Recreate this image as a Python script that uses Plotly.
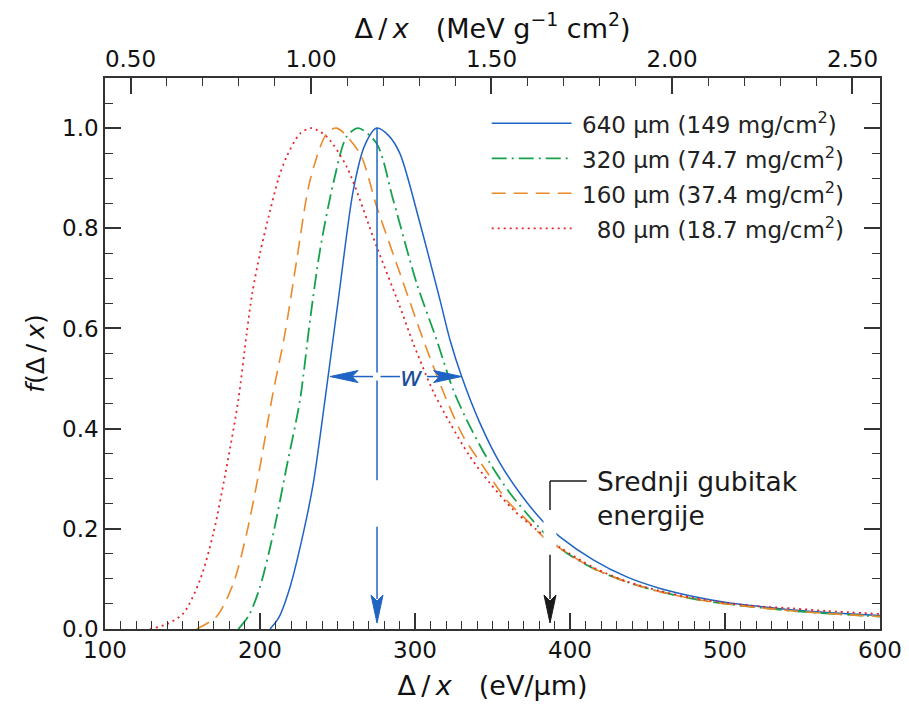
import plotly.graph_objects as go

# ---------------- data ----------------
blue_x = [206.5, 212, 219.4, 227.9, 234.4, 241.9, 250.5, 260.2, 267.5, 275.3, 283, 290.3, 303.2, 316.1,
          322.6, 330.1, 341.9, 354.8, 367.7, 382.8, 393.5, 415, 436.6, 458.1, 479.6, 501.1, 522.6,
          544.1, 565.6, 600]
blue_y = [0.0, 0.022, 0.084, 0.191, 0.291, 0.457, 0.657, 0.876, 0.965, 1.0, 0.985, 0.949, 0.81, 0.657,
          0.577, 0.504, 0.411, 0.331, 0.271, 0.214, 0.184, 0.138, 0.104, 0.081, 0.065, 0.053, 0.045,
          0.038, 0.033, 0.027]

green_x = [186, 193, 200, 208.6, 217.2, 225.8, 232.3, 238.7, 247.3, 255.9, 263.4, 275.3, 286, 301.1,
           314, 324.7, 335.5, 348.4, 361.3, 378.5, 393.5, 415, 436.6, 458, 479.6, 501, 522.6, 544,
           565.6, 600]
green_y = [0.0, 0.028, 0.084, 0.191, 0.324, 0.457, 0.617, 0.756, 0.89, 0.983, 1.0, 0.969, 0.856, 0.69,
           0.577, 0.477, 0.404, 0.331, 0.271, 0.208, 0.161, 0.121, 0.094, 0.0745, 0.060, 0.050, 0.0425,
           0.036, 0.031, 0.025]

orange_x = [159.2, 172, 182.8, 191.4, 200, 207.5, 216.1, 223.7, 232.3, 243, 249.5, 264.5, 275.3, 290.3,
            305.4, 320.4, 331.2, 344.1, 359.2, 374.2, 382.8, 393.5, 415, 436.6, 458, 479.6, 501, 522.6,
            544, 565.6, 600]
orange_y = [0.0, 0.025, 0.091, 0.191, 0.324, 0.457, 0.59, 0.737, 0.896, 0.989, 1.0, 0.949, 0.843, 0.71,
            0.577, 0.457, 0.384, 0.324, 0.257, 0.211, 0.184, 0.161, 0.121, 0.094, 0.0745, 0.060, 0.050,
            0.0425, 0.036, 0.031, 0.025]

red_x = [129, 140, 150.5, 161.3, 169.9, 178.5, 186, 191.4, 195, 200, 206.5, 212, 217.2, 225.8, 233.3, 243,
         255.9, 275.3, 290.3, 298.9, 311.8, 322.6, 335.5, 348.4, 363.4, 378.5, 393.5, 415, 436.6, 458,
         479.6, 501, 522.6, 544, 565.6, 600]
red_y = [0.0, 0.01, 0.031, 0.098, 0.191, 0.324, 0.457, 0.59, 0.67, 0.75, 0.835, 0.9, 0.943, 0.989, 1.0,
         0.983, 0.923, 0.763, 0.643, 0.570, 0.474, 0.411, 0.344, 0.291, 0.238, 0.198, 0.163, 0.123, 0.095,
         0.076, 0.062, 0.052, 0.045, 0.041, 0.036, 0.030]

series_labels = ["640 µm (149 mg/cm<sup>2</sup>)",
                 "320 µm (74.7 mg/cm<sup>2</sup>)",
                 "160 µm (37.4 mg/cm<sup>2</sup>)",
                 "\u200780 µm (18.7 mg/cm<sup>2</sup>)"]

most_probable = 275.5     # eV/µm, peak of the 640 µm curve
w_left, w_right, w_level = 245.2, 330.1, 0.504   # FWHM markers
mean_loss = 387.1         # eV/µm
mev_per = 232.9           # eV/µm per MeV g^-1 cm^2 (silicon)

# ---------------- styles ----------------
FONT = "DejaVu Sans"
C_BLUE = "#1f64c4"
C_GREEN = "#16a24c"
C_ORANGE = "#ea8a2a"
C_RED = "#e8242c"
C_AX = "#333333"

series = [
    (blue_x, blue_y, C_BLUE, "solid", 1.5),
    (green_x, green_y, C_GREEN, "15px,5px,2px,5px", 1.8),
    (orange_x, orange_y, C_ORANGE, "14px,8px", 1.6),
    (red_x, red_y, C_RED, "2px,4px", 1.8),
]

fig = go.Figure()
for xs, ys, col, dash, w in series:
    fig.add_trace(go.Scatter(x=xs, y=ys, mode="lines",
                             line=dict(color=col, dash=dash, width=w, shape="spline", smoothing=0.8),
                             showlegend=False, hoverinfo="skip"))

# invisible trace for the top (MeV g^-1 cm^2) axis
fig.add_trace(go.Scatter(x=[v / mev_per for v in blue_x], y=blue_y, xaxis="x2", mode="lines",
                         line=dict(width=0), opacity=0, showlegend=False, hoverinfo="skip"))

shapes = []
# white gap around mean-loss marker
shapes.append(dict(type="rect", xref="x", yref="y", x0=382.9, x1=391.2, y0=0.15, y1=0.232,
                   fillcolor="white", line=dict(width=0), layer="above"))
# most probable value vertical line
for y0, y1 in [(1.0, w_level + 0.008), (w_level - 0.008, 0.297), (0.204, 0.06)]:
    shapes.append(dict(type="line", xref="x", yref="y", x0=most_probable, x1=most_probable,
                       y0=y0, y1=y1, line=dict(color=C_BLUE, width=1.5), layer="above"))
# w horizontal segments
for x0, x1 in [(w_left + 8, most_probable - 2.6), (most_probable + 2.2, 290.3), (307.7, w_right - 8)]:
    shapes.append(dict(type="line", xref="x", yref="y", x0=x0, x1=x1, y0=w_level, y1=w_level,
                       line=dict(color=C_BLUE, width=1.5), layer="above"))


# arrowheads (pixel sized)
def head(xa, ya, path, col):
    return dict(type="path", xref="x", yref="y", xsizemode="pixel", ysizemode="pixel",
                xanchor=xa, yanchor=ya, path=path, fillcolor=col, line=dict(color=col, width=1),
                layer="above")


down = "M0,0 L-6,28 L0,22 L6,28 Z"
shapes.append(head(most_probable, 0.012, down, C_BLUE))
shapes.append(head(w_left, w_level, "M0,0 L28,6 L22,0 L28,-6 Z", C_BLUE))
shapes.append(head(w_right, w_level, "M0,0 L-28,6 L-22,0 L-28,-6 Z", C_BLUE))
# mean loss arrow + bracket
shapes.append(dict(type="line", xref="x", yref="y", x0=mean_loss, x1=mean_loss, y0=0.148, y1=0.06,
                   line=dict(color="#1a1a1a", width=1.5), layer="above"))
shapes.append(head(mean_loss, 0.012, down, "#1a1a1a"))
shapes.append(dict(type="line", xref="x", yref="y", x0=mean_loss, x1=mean_loss, y0=0.2375, y1=0.2955,
                   line=dict(color="#1a1a1a", width=1.5), layer="above"))
shapes.append(dict(type="line", xref="x", yref="y", x0=mean_loss, x1=410.8, y0=0.2955, y1=0.2955,
                   line=dict(color="#1a1a1a", width=1.5), layer="above"))

annotations = []
annotations.append(dict(x=297.9, y=w_level, xref="x", yref="y", text="<i>w</i>", showarrow=False,
                        font=dict(family=FONT, size=27, color="#1b4d9a"), xanchor="center", yanchor="middle"))
annotations.append(dict(x=416.1, y=0.2608, xref="x", yref="y", text="Srednji gubitak<br>energije",
                        showarrow=False, align="left", xanchor="left", yanchor="middle",
                        font=dict(family=FONT, size=26.5, color="#1a1a1a")))

# manual legend (long line samples)
leg_rows = [0.9178, 0.8543, 0.7907, 0.7272]
for (xs, ys, col, dash, w), lab, yy in zip(series, series_labels, leg_rows):
    shapes.append(dict(type="line", xref="paper", yref="paper", x0=0.499, x1=0.602, y0=yy, y1=yy,
                       line=dict(color=col, dash=dash, width=w)))
    annotations.append(dict(x=0.6130, y=yy, xref="paper", yref="paper", text=lab, showarrow=False,
                            xanchor="left", yanchor="middle",
                            font=dict(family=FONT, size=23, color="#222222")))

tick_common = dict(ticks="inside", ticklen=16, tickwidth=1.5, tickcolor=C_AX,
                   showline=True, linecolor=C_AX, linewidth=1.5, showgrid=False, zeroline=False,
                   tickfont=dict(family=FONT, size=23, color="#111111"))

fig.update_layout(
    width=909, height=708,
    margin=dict(l=97, r=37, t=70, b=87, autoexpand=False),
    plot_bgcolor="white", paper_bgcolor="white",
    font=dict(family=FONT, color="#111111"),
    shapes=shapes, annotations=annotations,
    xaxis=dict(range=[100, 600], tick0=100, dtick=100,
               minor=dict(dtick=10, ticks="inside", ticklen=8, tickwidth=1.2, tickcolor=C_AX),
               title=dict(text="Δ\u2009/\u2009<i>x</i>\u2003(eV/µm)", font=dict(family=FONT, size=27),
                          standoff=14),
               **tick_common),
    xaxis2=dict(overlaying="x", side="top", range=[100 / mev_per, 600 / mev_per], tick0=0, dtick=0.5,
                tickformat=".2f",
                minor=dict(dtick=0.1, ticks="inside", ticklen=8, tickwidth=1.2, tickcolor=C_AX),
                title=dict(text="Δ\u2009/\u2009<i>x</i>\u2003(MeV g<sup>\u22121</sup> cm<sup>2</sup>)",
                           font=dict(family=FONT, size=27), standoff=0),
                **tick_common),
    yaxis=dict(range=[0, 1.1], tick0=0, dtick=0.2, tickformat=".1f", mirror="ticks",
               minor=dict(dtick=0.05, ticks="inside", ticklen=8, tickwidth=1.2, tickcolor=C_AX),
               title=dict(text="<i>f</i>(Δ\u2009/\u2009<i>x</i>)", font=dict(family=FONT, size=25),
                          standoff=10),
               **tick_common),
)

fig.write_html("out.html")
